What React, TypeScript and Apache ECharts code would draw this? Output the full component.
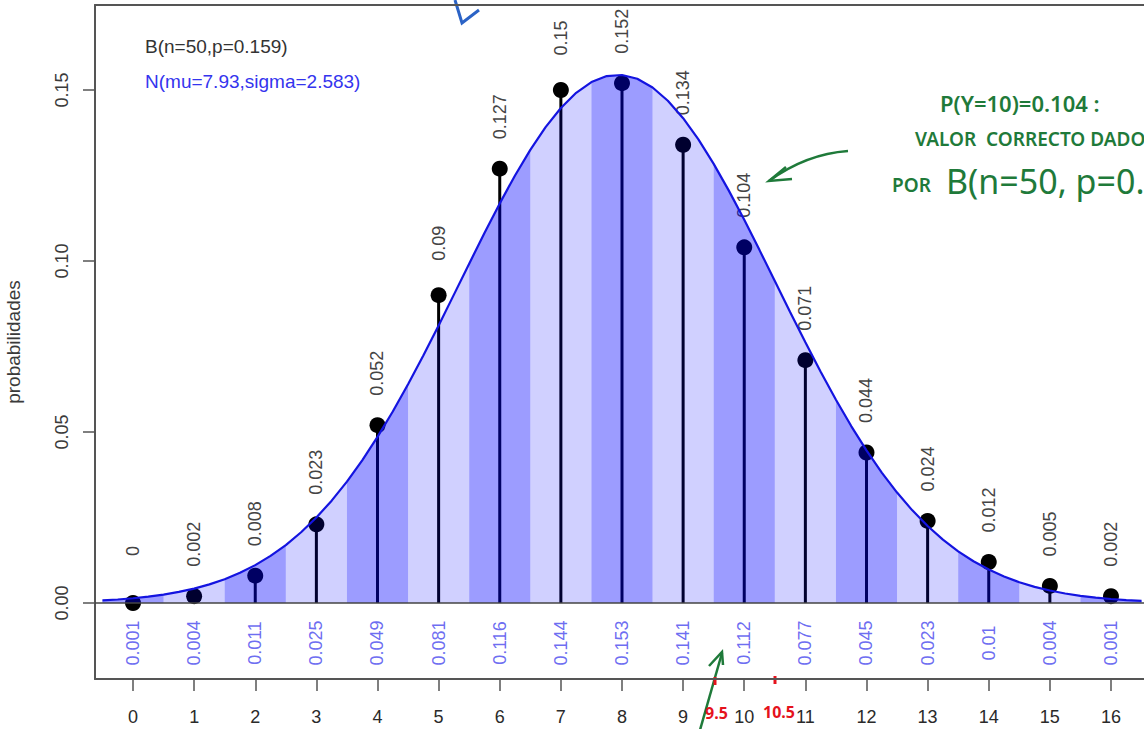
import React, { useEffect, useRef } from "react";
import * as echarts from "echarts";

// ---- data ----
const categories = [0, 1, 2, 3, 4, 5, 6, 7, 8, 9, 10, 11, 12, 13, 14, 15, 16];
const binomProbs = [0, 0.002, 0.008, 0.023, 0.052, 0.09, 0.127, 0.15, 0.152, 0.134, 0.104, 0.071, 0.044, 0.024, 0.012, 0.005, 0.002];
const normalProbs = [0.001, 0.004, 0.011, 0.025, 0.049, 0.081, 0.116, 0.144, 0.153, 0.141, 0.112, 0.077, 0.045, 0.023, 0.01, 0.004, 0.001];
const curveX = [
  -0.5, -0.25, 0, 0.25, 0.5, 0.75, 1, 1.25, 1.5, 1.75, 2, 2.25, 2.5, 2.75, 3, 3.25, 3.5, 3.75,
  4, 4.25, 4.5, 4.75, 5, 5.25, 5.5, 5.75, 6, 6.25, 6.5, 6.75, 7, 7.25, 7.5, 7.75,
  8, 8.25, 8.5, 8.75, 9, 9.25, 9.5, 9.75, 10, 10.25, 10.5, 10.75, 11, 11.25, 11.5, 11.75,
  12, 12.25, 12.5, 12.75, 13, 13.25, 13.5, 13.75, 14, 14.25, 14.5, 14.75, 15, 15.25, 15.5, 15.75,
  16, 16.25, 16.5,
];
const curveY = [
  0.00075, 0.00103, 0.00139, 0.00186, 0.00247, 0.00325, 0.00422, 0.00545, 0.00697, 0.00883,
  0.01108, 0.01377, 0.01694, 0.02068, 0.02499, 0.02993, 0.03549, 0.04172,
  0.04856, 0.05599, 0.06397, 0.07239, 0.08116, 0.09017, 0.09922, 0.10818,
  0.11684, 0.12501, 0.1325, 0.13914, 0.14475, 0.14918, 0.15232, 0.15408,
  0.15439, 0.15327, 0.15073, 0.14686, 0.14175, 0.13554, 0.1284, 0.1205,
  0.11203, 0.10318, 0.09415, 0.08511, 0.07622, 0.06762, 0.05943, 0.05174,
  0.04463, 0.03814, 0.03229, 0.02709, 0.02251, 0.01852, 0.0151, 0.0122,
  0.00977, 0.00774, 0.00608, 0.00473, 0.00365, 0.00279, 0.00211, 0.00158,
  0.00117, 0.00086, 0.00063,
];
const yTickValues = [0, 0.05, 0.1, 0.15];
const yTickLabels = ["0.00", "0.05", "0.10", "0.15"];
const yAxisName = "probabilidades";
const legendBinom = "B(n=50,p=0.159)";
const legendNormal = "N(mu=7.93,sigma=2.583)";
const noteLines = ["P(Y=10)=0.104 :", "VALOR  CORRECTO DADO", "POR"];
const noteFormula = "B(n=50, p=0.159)";
const redMarks = ["9.5", "10.5"];

const FONT = "'Liberation Sans', Arial, sans-serif";
const HAND = "'Noto Sans', sans-serif";
const GREEN = "#1f7a3a";
const RED = "#e5121c";

export default function App() {
  const ref = useRef<HTMLDivElement>(null);
  useEffect(() => {
    if (!ref.current) return;
    const chart = echarts.init(ref.current, undefined, { renderer: "svg" });
    const xMin = -0.6217;
    const xMax = 16.54;
    const axisColor = "#555";

    const option: any = {
      animation: false,
      backgroundColor: "#ffffff",
      grid: { left: 95, right: 0, top: 5, bottom: 50, containLabel: false, outerBoundsMode: "none" },
      xAxis: [
        {
          type: "value",
          min: xMin,
          max: xMax,
          position: "bottom",
          axisLine: { show: true, onZero: false, lineStyle: { color: axisColor, width: 2 } },
          axisTick: { show: true, length: 12, customValues: categories, lineStyle: { color: axisColor, width: 1.5 } },
          axisLabel: {
            customValues: categories,
            margin: 29,
            fontSize: 18,
            color: "#2a2a2a",
            fontFamily: FONT,
            formatter: (v: number) => String(v),
          },
          splitLine: { show: false },
        },
        {
          type: "value",
          min: xMin,
          max: xMax,
          position: "top",
          axisLine: { show: true, onZero: false, lineStyle: { color: axisColor, width: 2 } },
          axisTick: { show: false },
          axisLabel: { show: false },
          splitLine: { show: false },
        },
      ],
      yAxis: {
        type: "value",
        min: -0.02222,
        max: 0.17485,
        axisLine: { show: true, onZero: false, lineStyle: { color: axisColor, width: 2 } },
        axisTick: { show: true, length: 12, customValues: yTickValues, lineStyle: { color: axisColor, width: 1.5 } },
        axisLabel: {
          customValues: yTickValues,
          rotate: 90,
          margin: 24,
          fontSize: 18,
          color: "#3a3a3a",
          fontFamily: FONT,
          formatter: (v: number) => {
            const i = yTickValues.findIndex((t) => Math.abs(t - v) < 1e-9);
            return i >= 0 ? yTickLabels[i] : "";
          },
        },
        splitLine: { show: false },
        name: yAxisName,
        nameLocation: "middle",
        nameRotate: 90,
        nameGap: 72,
        nameTextStyle: { fontSize: 19, color: "#3a3a3a", fontFamily: FONT },
      },
      series: [
        {
          type: "bar",
          name: "stems",
          data: categories.map((k, i) => [k, binomProbs[i]]),
          barWidth: 3,
          itemStyle: { color: "#000000" },
          z: 2,
        },
        {
          type: "scatter",
          name: "binom",
          data: categories.map((k, i) => [k, binomProbs[i]]),
          symbolSize: 16,
          itemStyle: { color: "#000000", opacity: 1 },
          z: 2,
          label: {
            show: true,
            position: "top",
            distance: 44,
            rotate: 90,
            align: "center",
            verticalAlign: "middle",
            fontSize: 18,
            color: "#444444",
            fontFamily: FONT,
            formatter: (p: any) => String(binomProbs[p.dataIndex]),
          },
        },
        {
          type: "custom",
          name: "bands",
          data: categories.map((k, i) => [k, normalProbs[i]]),
          encode: { x: 0, y: 1 },
          z: 3,
          renderItem: (params: any, api: any) => {
            const k = api.value(0);
            const pts: number[][] = [];
            for (let i = 0; i < curveX.length; i++) {
              if (curveX[i] >= k - 0.5 - 1e-9 && curveX[i] <= k + 0.5 + 1e-9) {
                pts.push(api.coord([curveX[i], curveY[i]]));
              }
            }
            pts.push(api.coord([k + 0.5, 0]));
            pts.push(api.coord([k - 0.5, 0]));
            const dark = k % 2 === 0;
            return {
              type: "polygon",
              shape: { points: pts },
              style: { fill: dark ? "rgba(0,0,255,0.39)" : "rgba(0,0,255,0.185)" },
            };
          },
        },
        {
          type: "line",
          name: "normal",
          data: curveX.map((x, i) => [x, curveY[i]]),
          showSymbol: false,
          symbol: "none",
          smooth: false,
          lineStyle: { color: "#1414e0", width: 2.2 },
          z: 4,
          markLine: {
            silent: true,
            symbol: "none",
            label: { show: false },
            lineStyle: { color: "#444", width: 1.5, type: "solid" },
            data: [{ yAxis: 0 }],
          },
        },
        {
          type: "scatter",
          name: "normalProbs",
          data: categories.map((k) => [k, 0]),
          symbolSize: 0,
          z: 5,
          label: {
            show: true,
            position: "bottom",
            distance: 40,
            rotate: 90,
            align: "center",
            verticalAlign: "middle",
            fontSize: 18,
            color: "#4646ee",
            fontFamily: FONT,
            formatter: (p: any) => String(normalProbs[p.dataIndex]),
          },
        },
      ],
      graphic: [
        { type: "text", left: 145, top: 37, style: { text: legendBinom, fill: "#333", font: `19px ${FONT}` } },
        { type: "text", left: 145, top: 72, style: { text: legendNormal, fill: "#3434ee", font: `19px ${FONT}` } },
        // handwritten annotations
        { type: "text", x: 940, y: 103, style: { text: noteLines[0], fill: GREEN, font: `600 22px ${HAND}`, verticalAlign: "middle" } },
        { type: "text", x: 915, y: 139, style: { text: noteLines[1], fill: GREEN, font: `600 19px ${HAND}`, verticalAlign: "middle" } },
        { type: "text", x: 892, y: 185, style: { text: noteLines[2], fill: GREEN, font: `600 19px ${HAND}`, verticalAlign: "middle" } },
        { type: "text", x: 946, y: 181, style: { text: noteFormula, fill: GREEN, font: `400 34px ${HAND}`, verticalAlign: "middle" } },
        { type: "bezierCurve", shape: { x1: 848, y1: 151, x2: 769, y2: 181, cpx1: 806, cpy1: 154 }, style: { stroke: GREEN, lineWidth: 2.5, fill: null } },
        { type: "polyline", shape: { points: [[786, 167], [769, 181], [792, 179]] }, style: { stroke: GREEN, lineWidth: 2.5, fill: null } },
        { type: "line", shape: { x1: 700, y1: 730, x2: 722, y2: 653 }, style: { stroke: GREEN, lineWidth: 2.5 } },
        { type: "polyline", shape: { points: [[709, 666], [722, 652], [723, 665]] }, style: { stroke: GREEN, lineWidth: 2.5, fill: null } },
        { type: "text", x: 705, y: 713, style: { text: redMarks[0], fill: RED, font: `700 16px ${HAND}`, verticalAlign: "middle" } },
        { type: "text", x: 763, y: 712, style: { text: redMarks[1], fill: RED, font: `700 16px ${HAND}`, verticalAlign: "middle" } },
        { type: "line", shape: { x1: 715, y1: 677, x2: 715, y2: 685 }, style: { stroke: RED, lineWidth: 3 } },
        { type: "line", shape: { x1: 775, y1: 676, x2: 775, y2: 684 }, style: { stroke: RED, lineWidth: 3 } },
        { type: "polyline", shape: { points: [[455, 0], [462, 23], [479, 10]] }, style: { stroke: "#2b63c6", lineWidth: 3, fill: null } },
      ],
    };
    chart.setOption(option);
    return () => chart.dispose();
  }, []);
  return (
    <div
      ref={ref}
      style={{ position: "absolute", left: 0, top: 0, width: 1144, height: 729, background: "#fff" }}
    />
  );
}
